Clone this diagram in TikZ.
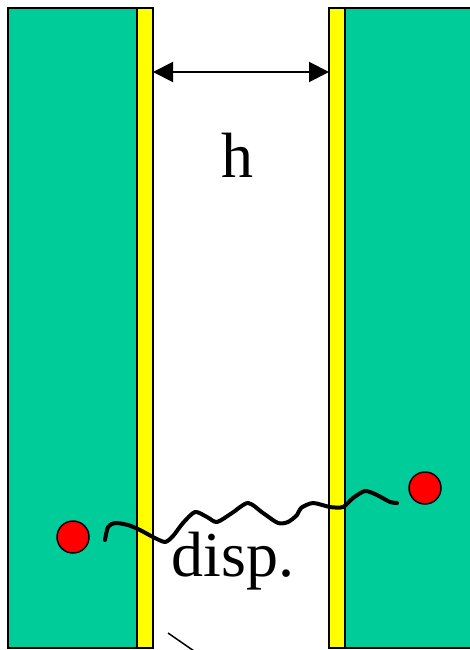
\documentclass[tikz,border=0pt]{standalone}
\usepackage{fontspec}
\setmainfont{Liberation Serif}
\usetikzlibrary{arrows.meta,positioning}
\definecolor{PlateGreen}{HTML}{00CC99}
\definecolor{LayerYellow}{HTML}{FFFF00}
\definecolor{ParticleRed}{HTML}{FF0000}

\begin{document}
\begin{tikzpicture}[
    x=1pt, y=-1pt,
    plate/.style={draw=black, line width=2pt, fill=PlateGreen},
    layer/.style={draw=black, line width=2pt, fill=LayerYellow},
    particle/.style={circle, draw=black, line width=1.5pt, fill=ParticleRed, minimum size=32pt, inner sep=0pt},
    label/.style={font=\fontsize{64}{70}\selectfont, inner sep=0pt, anchor=base},
    dim/.style={{Triangle[length=20pt,width=20pt]}-{Triangle[length=20pt,width=20pt]}, line width=2pt},
    chain/.style={line width=4pt, line join=round, line cap=round}
]
\useasboundingbox (0,0) rectangle (470,650);
\clip (0,0) rectangle (470,650);

% plates with surface layers
\draw[plate] (8,8) rectangle (137,648);
\draw[layer] (137,8) rectangle (153,648);
\draw[layer] (329,8) rectangle (345,648);
\draw[plate] (345,8) rectangle (480,648);

% gap width
\coordinate (gapL) at (153,72);
\coordinate (gapR) at (329,72);
\draw[dim] (gapL) -- (gapR);
\node[label] (hlabel) at (237,177) {h};

% particles and chain
\node[particle] (p1) at (73,537) {};
\node[particle] (p2) at (425,488) {};
\draw[chain] plot[smooth, tension=0.45] coordinates {
    (105,540) (108,527) (115,523) (128,525) (140,530) (153,537) (165,542)
    (173,536) (183,523) (195,512) (207,517) (217,522) (232,513) (248,503)
    (263,513) (278,523) (288,522) (297,515) (301,508) (313,503) (330,507)
    (343,507) (353,498) (365,491) (377,495) (390,502) (397,503)};
\node[label] (displabel) at (233,576) {disp.};

\draw[line width=1.5pt] (168,633) -- (194,651);
\end{tikzpicture}
\end{document}
